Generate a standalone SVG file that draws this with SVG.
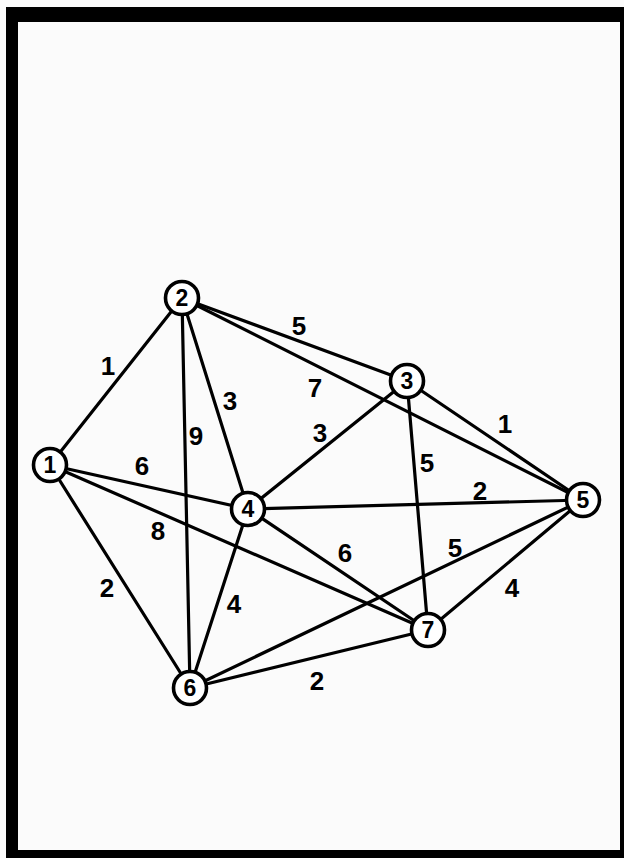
<svg xmlns="http://www.w3.org/2000/svg" width="624" height="858" viewBox="0 0 624 858">
<style>
.edge{stroke:#000;stroke-width:3.2;stroke-linecap:round}
.node circle{fill:#fff;stroke:#000;stroke-width:3.6}
.node text{font-family:"Liberation Sans",Arial,sans-serif;font-weight:bold;font-size:23px;text-anchor:middle;fill:#000}
.lbl{font-family:"Liberation Sans",Arial,sans-serif;font-weight:bold;font-size:26px;text-anchor:middle;fill:#000}
</style>
<rect x="0" y="0" width="624" height="858" fill="#fbfbfb"/>
<path d="M6,7 H624 V858 H6 Z M18,22 V850 H620 V22 Z" fill="#000" fill-rule="evenodd"/>
<g id="connectors">
<line class="edge" x1="50" y1="465" x2="182" y2="298"/>
<line class="edge" x1="50" y1="465" x2="248" y2="509"/>
<line class="edge" x1="50" y1="465" x2="428" y2="630"/>
<line class="edge" x1="50" y1="465" x2="190" y2="688"/>
<line class="edge" x1="182" y1="298" x2="190" y2="688"/>
<line class="edge" x1="182" y1="298" x2="248" y2="509"/>
<line class="edge" x1="182" y1="298" x2="407" y2="381"/>
<line class="edge" x1="182" y1="298" x2="583" y2="500"/>
<line class="edge" x1="407" y1="381" x2="248" y2="509"/>
<line class="edge" x1="407" y1="381" x2="583" y2="500"/>
<line class="edge" x1="407" y1="381" x2="428" y2="630"/>
<line class="edge" x1="248" y1="509" x2="583" y2="500"/>
<line class="edge" x1="248" y1="509" x2="428" y2="630"/>
<line class="edge" x1="248" y1="509" x2="190" y2="688"/>
<line class="edge" x1="190" y1="688" x2="583" y2="500"/>
<line class="edge" x1="428" y1="630" x2="583" y2="500"/>
<line class="edge" x1="190" y1="688" x2="428" y2="630"/>
</g>
<g id="labels">
<text class="lbl" x="108" y="375">1</text>
<text class="lbl" x="299" y="335">5</text>
<text class="lbl" x="315" y="397">7</text>
<text class="lbl" x="230" y="410">3</text>
<text class="lbl" x="196" y="445">9</text>
<text class="lbl" x="320" y="442">3</text>
<text class="lbl" x="505" y="433">1</text>
<text class="lbl" x="142" y="475">6</text>
<text class="lbl" x="427" y="472">5</text>
<text class="lbl" x="480" y="500">2</text>
<text class="lbl" x="158" y="540">8</text>
<text class="lbl" x="345" y="562">6</text>
<text class="lbl" x="455" y="557">5</text>
<text class="lbl" x="107" y="597">2</text>
<text class="lbl" x="234" y="613">4</text>
<text class="lbl" x="512" y="597">4</text>
<text class="lbl" x="317" y="690">2</text>
</g>
<g id="n1" class="node"><circle cx="50" cy="465" r="16.5"/><text x="50" y="473">1</text></g>
<g id="n2" class="node"><circle cx="182" cy="298" r="16.5"/><text x="182" y="306">2</text></g>
<g id="n3" class="node"><circle cx="407" cy="381" r="16.5"/><text x="407" y="389">3</text></g>
<g id="n4" class="node"><circle cx="248" cy="509" r="16.5"/><text x="248" y="517">4</text></g>
<g id="n5" class="node"><circle cx="583" cy="500" r="16.5"/><text x="583" y="508">5</text></g>
<g id="n6" class="node"><circle cx="190" cy="688" r="16.5"/><text x="190" y="696">6</text></g>
<g id="n7" class="node"><circle cx="428" cy="630" r="16.5"/><text x="428" y="638">7</text></g>
</svg>
